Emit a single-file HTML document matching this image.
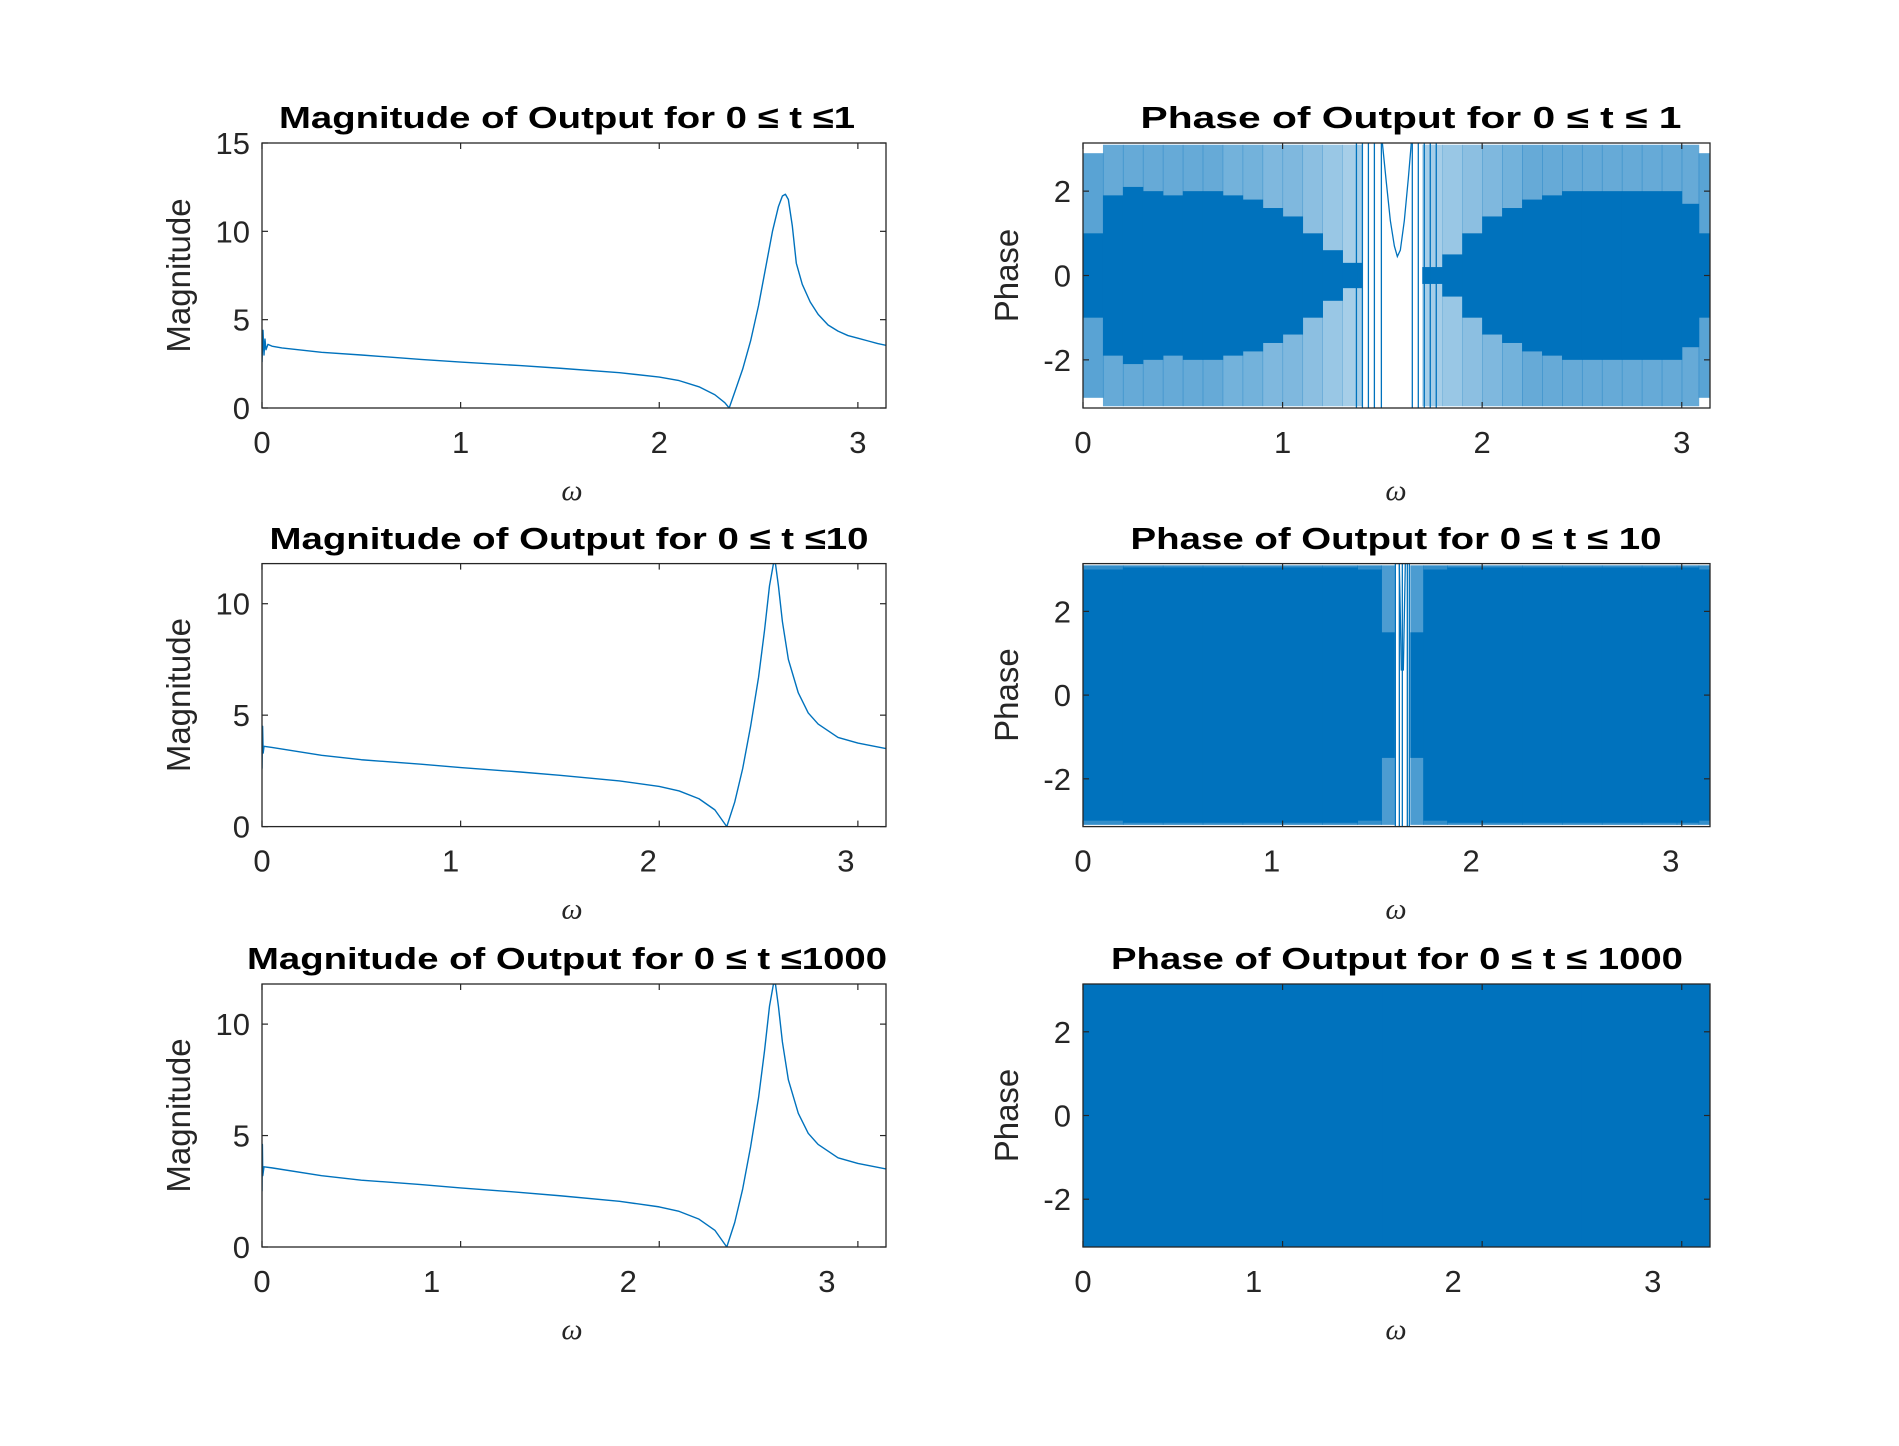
<!DOCTYPE html>
<html><head><meta charset="utf-8"><style>
html,body{margin:0;padding:0;background:#fff;}
svg{display:block;font-family:"Liberation Sans",Arial,sans-serif;}
</style></head><body>
<svg id="fig" xmlns="http://www.w3.org/2000/svg" width="1899" height="1446" viewBox="0 0 1899 1446"></svg>
<script>
// ---------- data ----------
const xTicks = [0,1,2,3];
const magTicks1 = [0,5,10,15];
const magTicks23 = [0,5,10];
const phaseTicks = [-2,0,2];

const mag1W = [0,0.005,0.01,0.015,0.02,0.03,0.05,0.1,0.3,0.5,0.8,1.0,1.3,1.5,1.8,2.0,2.1,2.2,2.28,2.33,2.352,2.38,2.42,2.46,2.5,2.54,2.57,2.6,2.62,2.635,2.65,2.67,2.69,2.72,2.76,2.8,2.85,2.9,2.95,3.0,3.05,3.1,3.1416];
const mag1V = [2.6,4.4,3.0,3.9,3.3,3.6,3.5,3.4,3.15,3.0,2.75,2.6,2.4,2.25,2.0,1.75,1.55,1.2,0.75,0.3,0,0.9,2.2,3.8,5.8,8.2,10.0,11.4,12.0,12.1,11.8,10.3,8.2,7.0,6.0,5.3,4.7,4.35,4.1,3.95,3.8,3.65,3.55];

const mag2W = [0,0.003,0.006,0.01,0.05,0.3,0.5,0.8,1.0,1.3,1.5,1.8,2.0,2.1,2.2,2.28,2.34,2.38,2.42,2.46,2.5,2.53,2.555,2.575,2.585,2.6,2.62,2.65,2.7,2.75,2.8,2.9,3.0,3.1416];
const mag2V = [2.6,4.5,3.3,3.6,3.55,3.2,3.0,2.8,2.65,2.45,2.3,2.05,1.8,1.6,1.25,0.75,0,1.1,2.6,4.5,6.7,8.8,10.8,11.8,11.8,10.8,9.2,7.5,6.0,5.1,4.6,4.0,3.75,3.5];

const mag3W = [0,0.002,0.004,0.01,0.05,0.3,0.5,0.8,1.0,1.3,1.5,1.8,2.0,2.1,2.2,2.28,2.34,2.38,2.42,2.46,2.5,2.53,2.555,2.575,2.585,2.6,2.62,2.65,2.7,2.75,2.8,2.9,3.0,3.1416];
const mag3V = [2.5,4.6,3.2,3.6,3.55,3.2,3.0,2.8,2.65,2.45,2.3,2.05,1.8,1.6,1.25,0.75,0,1.1,2.6,4.5,6.7,8.8,10.8,11.8,11.8,10.8,9.2,7.5,6.0,5.1,4.6,4.0,3.75,3.5];

// phase: per-bin envelopes (bin centres, dense-core half width, outer half width, outer density)
const ph1W     = [0.05,0.15,0.25,0.35,0.45,0.55,0.65,0.75,0.85,0.95,1.05,1.15,1.25,1.35,1.45,1.55,1.65,1.75,1.85,1.95,2.05,2.15,2.25,2.35,2.45,2.55,2.65,2.75,2.85,2.95,3.05,3.12];
const ph1Core  = [1.0,1.9,2.1,2.0,1.9,2.0,2.0,1.9,1.8,1.6,1.4,1.0,0.6,0.3,0,0,0,0.2,0.5,1.0,1.4,1.6,1.8,1.9,2.0,2.0,2.0,2.0,2.0,2.0,1.7,1.0];
const ph1Outer = [2.9,3.1,3.1,3.1,3.1,3.1,3.1,3.1,3.1,3.1,3.1,3.1,3.1,3.1,0,0,0,3.1,3.1,3.1,3.1,3.1,3.1,3.1,3.1,3.1,3.1,3.1,3.1,3.1,3.1,2.9];
const ph1Dens  = [0.65,0.6,0.6,0.6,0.6,0.6,0.6,0.55,0.55,0.5,0.5,0.45,0.4,0.35,0,0,0,0.35,0.4,0.45,0.5,0.55,0.6,0.6,0.6,0.6,0.6,0.6,0.6,0.6,0.6,0.65];
const ph1Lines = [1.37,1.40,1.43,1.46,1.495,1.65,1.68,1.71,1.74,1.77];
const ph1UW = [1.50,1.52,1.54,1.56,1.575,1.59,1.61,1.63,1.645];
const ph1UV = [3.14,2.2,1.3,0.7,0.45,0.6,1.3,2.3,3.14];

const ph2W     = [0.1,0.3,0.5,0.7,0.9,1.1,1.3,1.45,1.54,1.58,1.62,1.66,1.75,1.9,2.1,2.3,2.5,2.7,2.9,3.05,3.12];
const ph2Core  = [3.0,3.05,3.05,3.05,3.05,3.05,3.05,3.0,1.5,0,0,1.5,3.0,3.05,3.05,3.05,3.05,3.05,3.05,3.05,3.0];
const ph2Outer = [3.1,3.1,3.1,3.1,3.1,3.1,3.1,3.1,3.1,0,0,3.1,3.1,3.1,3.1,3.1,3.1,3.1,3.1,3.1,3.1];
const ph2Dens  = [0.8,0.8,0.8,0.8,0.8,0.8,0.8,0.8,0.7,0,0,0.7,0.8,0.8,0.8,0.8,0.8,0.8,0.8,0.8,0.8];
const ph2Lines = [1.565,1.585,1.60,1.625,1.635];
const ph2UW = [1.585,1.595,1.605,1.615];
const ph2UV = [3.14,0.6,0.6,3.14];

const ph3W     = [0.25,0.75,1.25,1.75,2.25,2.75,3.1];
const ph3Core  = [3.1416,3.1416,3.1416,3.1416,3.1416,3.1416,3.1416];
const ph3Outer = [3.1416,3.1416,3.1416,3.1416,3.1416,3.1416,3.1416];
const ph3Dens  = [1,1,1,1,1,1,1];

// ---------- rendering ----------
const NS = "http://www.w3.org/2000/svg";
const svg = document.getElementById('fig');
const BLUE = "#0072BD";
function mk(tag, attrs, parent){ const e=document.createElementNS(NS,tag); for(const k in attrs) e.setAttribute(k,attrs[k]); (parent||svg).appendChild(e); return e; }
function scale(d0,d1,r0,r1){ return v => r0 + (v-d0)/(d1-d0)*(r1-r0); }

function axes(cfg){
  const g = mk('g',{});
  
  
  const X = scale(cfg.xlim[0],cfg.xlim[1],cfg.x0,cfg.x1);
  const Y = scale(cfg.ylim[0],cfg.ylim[1],cfg.y1,cfg.y0);
  const clipId = 'clip-'+cfg.name;
  const cp = mk('clipPath',{id:clipId},g);
  mk('rect',{x:cfg.x0,y:cfg.y0,width:cfg.x1-cfg.x0,height:cfg.y1-cfg.y0},cp);
  const plot = mk('g',{'clip-path':'url(#'+clipId+')'},g);
  
  
  cfg.draw(plot,X,Y);
  const box = mk('rect',{x:cfg.x0,y:cfg.y0,width:cfg.x1-cfg.x0,height:cfg.y1-cfg.y0,fill:'none',stroke:'#262626','stroke-width':1.3},g);
  
  
  cfg.xticks.forEach((t,i)=>{
    const px = X(t);
    mk('line',{x1:px,x2:px,y1:cfg.y1,y2:cfg.y1-6,stroke:'#262626','stroke-width':1.2},g);
    mk('line',{x1:px,x2:px,y1:cfg.y0,y2:cfg.y0+6,stroke:'#262626','stroke-width':1.2},g);
    const tx = mk('text',{x:px+(cfg.xlabShift? cfg.xlabShift[i]:0),y:cfg.y1+45,'text-anchor':'middle','font-size':31,fill:'#262626'},g);
    tx.textContent = String(t);
    
    
  });
  cfg.yticks.forEach(t=>{
    const py = Y(t);
    mk('line',{x1:cfg.x0,x2:cfg.x0+6,y1:py,y2:py,stroke:'#262626','stroke-width':1.2},g);
    mk('line',{x1:cfg.x1,x2:cfg.x1-6,y1:py,y2:py,stroke:'#262626','stroke-width':1.2},g);
    const ty = mk('text',{x:cfg.x0-12,y:py+11,'text-anchor':'end','font-size':31,fill:'#262626'},g);
    ty.textContent = String(t);
    
    
  });
  const tt = mk('text',{x:cfg.tx,y:cfg.ty,'text-anchor':'middle','font-size':31,'font-weight':'bold',fill:'#000',textLength:cfg.tw,lengthAdjust:'spacingAndGlyphs'},g);
  tt.textContent = cfg.title;
  
  
  const cy = (cfg.y0+cfg.y1)/2;
  const yl = mk('text',{x:cfg.ylx,y:cy,'text-anchor':'middle','font-size':33,fill:'#262626',transform:'rotate(-90 '+cfg.ylx+' '+cy+')'},g);
  yl.textContent = cfg.ylabel;
  
  
  const xl = mk('text',{x:cfg.xlx,y:cfg.y1+92,'text-anchor':'middle','font-size':30,'font-style':'italic','font-family':'"Liberation Serif",serif',fill:'#262626'},g);
  xl.textContent = 'ω';
  
  
}

function magLine(W,V){
  return (p,X,Y)=>{
    const d = W.map((w,i)=>(i?'L':'M')+X(w).toFixed(2)+' '+Y(V[i]).toFixed(2)).join(' ');
    const pa = mk('path',{d:d,fill:'none',stroke:BLUE,'stroke-width':1.4,'stroke-linejoin':'round'},p);
    
    
  };
}

function phaseBands(W,core,outer,dens,lines,UW,UV){
  return (p,X,Y)=>{
    W.forEach((w,i)=>{
      const lo = i===0 ? 0 : (W[i-1]+w)/2;
      const hi = i===W.length-1 ? Math.PI : (w+W[i+1])/2;
      if(outer[i]>0){
        const r = mk('rect',{x:X(lo),y:Y(outer[i]),width:X(hi)-X(lo)+0.5,height:Y(-outer[i])-Y(outer[i]),fill:BLUE,'fill-opacity':dens[i]},p);
        
        
      }
      if(core[i]>0){
        const r = mk('rect',{x:X(lo),y:Y(core[i]),width:X(hi)-X(lo)+0.5,height:Y(-core[i])-Y(core[i]),fill:BLUE},p);
        
        
      }
    });
    (lines||[]).forEach(w=>{
      const l = mk('line',{x1:X(w),x2:X(w),y1:Y(Math.PI),y2:Y(-Math.PI),stroke:BLUE,'stroke-width':1.3},p);
      
      
    });
    if(UW){
      const d = UW.map((w,i)=>(i?'L':'M')+X(w).toFixed(2)+' '+Y(UV[i]).toFixed(2)).join(' ');
      const u = mk('path',{d:d,fill:'none',stroke:BLUE,'stroke-width':1.3},p);
      
      
    }
  };
}

const PI = Math.PI;
const rows = [[143,408],[563.6,826.6],[984,1247]];
const c1 = [262,886], c2 = [1083,1710];

axes({name:'magnitude-t1',x0:c1[0],x1:c1[1],y0:rows[0][0],y1:rows[0][1],xlim:[0,PI],ylim:[0,15],xticks:xTicks,yticks:magTicks1,
  title:'Magnitude of Output for 0 ≤ t ≤1',tx:567,ty:128,tw:576,ylabel:'Magnitude',ylx:190,xlx:572,draw:magLine(mag1W,mag1V)});
axes({name:'magnitude-t10',x0:c1[0],x1:c1[1],y0:rows[1][0],y1:rows[1][1],xlim:[0,PI],ylim:[0,11.8],xticks:xTicks,yticks:magTicks23,xlabShift:[0,-10,-11,-12],
  title:'Magnitude of Output for 0 ≤ t ≤10',tx:569,ty:549,tw:599,ylabel:'Magnitude',ylx:190,xlx:572,draw:magLine(mag2W,mag2V)});
axes({name:'magnitude-t1000',x0:c1[0],x1:c1[1],y0:rows[2][0],y1:rows[2][1],xlim:[0,PI],ylim:[0,11.8],xticks:xTicks,yticks:magTicks23,xlabShift:[0,-29,-31,-31],
  title:'Magnitude of Output for 0 ≤ t ≤1000',tx:567,ty:969,tw:640,ylabel:'Magnitude',ylx:190,xlx:572,draw:magLine(mag3W,mag3V)});

axes({name:'phase-t1',x0:c2[0],x1:c2[1],y0:rows[0][0],y1:rows[0][1],xlim:[0,PI],ylim:[-PI,PI],xticks:xTicks,yticks:phaseTicks,
  title:'Phase of Output for 0 ≤ t ≤ 1',tx:1411,ty:128,tw:541,ylabel:'Phase',ylx:1018,xlx:1396,draw:phaseBands(ph1W,ph1Core,ph1Outer,ph1Dens,ph1Lines,ph1UW,ph1UV)});
axes({name:'phase-t10',x0:c2[0],x1:c2[1],y0:rows[1][0],y1:rows[1][1],xlim:[0,PI],ylim:[-PI,PI],xticks:xTicks,yticks:phaseTicks,xlabShift:[0,-11,-11,-11],
  title:'Phase of Output for 0 ≤ t ≤ 10',tx:1396,ty:549,tw:531,ylabel:'Phase',ylx:1018,xlx:1396,draw:phaseBands(ph2W,ph2Core,ph2Outer,ph2Dens,ph2Lines,ph2UW,ph2UV)});
axes({name:'phase-t1000',x0:c2[0],x1:c2[1],y0:rows[2][0],y1:rows[2][1],xlim:[0,PI],ylim:[-PI,PI],xticks:xTicks,yticks:phaseTicks,xlabShift:[0,-29,-29,-29],
  title:'Phase of Output for 0 ≤ t ≤ 1000',tx:1397,ty:969,tw:572,ylabel:'Phase',ylx:1018,xlx:1396,draw:phaseBands(ph3W,ph3Core,ph3Outer,ph3Dens,null,null,null)});
</script>
</body></html>
